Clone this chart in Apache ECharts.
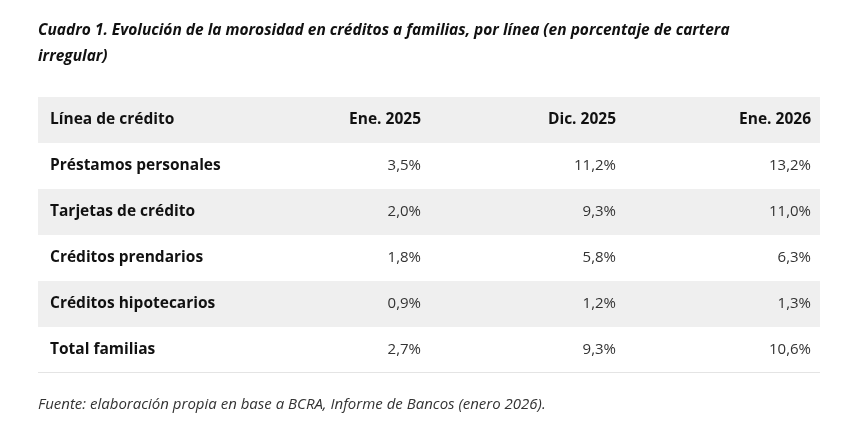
<!DOCTYPE html>
<html>
<head>
<meta charset="utf-8">
<script src="https://cdn.jsdelivr.net/npm/echarts@6/dist/echarts.min.js"></script>
<style>html,body{margin:0;padding:0;background:#fff}#container{width:865px;height:446px}</style>
</head>
<body>
<div id="container"></div>
<script>
const headers = ['Línea de crédito', 'Ene. 2025', 'Dic. 2025', 'Ene. 2026'];
const lines = ['Préstamos personales', 'Tarjetas de crédito', 'Créditos prendarios', 'Créditos hipotecarios', 'Total familias'];
const ene2025 = [3.5, 2.0, 1.8, 0.9, 2.7];
const dic2025 = [11.2, 9.3, 5.8, 1.2, 9.3];
const ene2026 = [13.2, 11.0, 6.3, 1.3, 10.6];

var dom = document.getElementById('container');
var myChart = echarts.init(dom, null, { renderer: 'canvas' });
const font = '"Open Sans", "Noto Sans", sans-serif';
const fmt = (v) => v.toFixed(1).replace('.', ',') + '%';
const colX = [50, 421, 616, 811];
const top0 = 97, rowH = 46;

let elements = [];
elements.push({ type: 'text', left: 38, top: 18, style: { text: 'Cuadro 1. Evolución de la morosidad en créditos a familias, por línea (en porcentaje de cartera\nirregular)', font: 'italic bold 15.5px ' + font, fill: '#111', lineHeight: 26 } });
// header band
elements.push({ type: 'rect', shape: { x: 38, y: top0, width: 782, height: rowH }, style: { fill: '#efefef' } });
headers.forEach((h, i) => {
    elements.push({ type: 'text', x: colX[i], y: top0 + rowH / 2, style: { text: h, font: 'bold 15.5px ' + font, fill: '#111', align: i === 0 ? 'left' : 'right', verticalAlign: 'middle' } });
});
lines.forEach((name, r) => {
    let y = top0 + rowH * (r + 1);
    if (r % 2 === 1) {
        elements.push({ type: 'rect', shape: { x: 38, y: y, width: 782, height: rowH }, style: { fill: '#efefef' } });
    }
    let vals = [ene2025[r], dic2025[r], ene2026[r]];
    elements.push({ type: 'text', x: colX[0], y: y + rowH / 2, style: { text: name, font: 'bold 15.5px ' + font, fill: '#111', verticalAlign: 'middle' } });
    vals.forEach((v, c) => {
        elements.push({ type: 'text', x: colX[c + 1], y: y + rowH / 2, style: { text: fmt(v), font: '15px ' + font, fill: '#333', align: 'right', verticalAlign: 'middle' } });
    });
});
elements.push({ type: 'rect', shape: { x: 38, y: top0 + rowH * 6 - 1, width: 782, height: 1 }, style: { fill: '#e4e4e4' } });
elements.push({ type: 'text', left: 38, top: 397, style: { text: 'Fuente: elaboración propia en base a BCRA, Informe de Bancos (enero 2026).', font: 'italic 15px ' + font, fill: '#333' } });

myChart.setOption({ backgroundColor: '#fff', graphic: { elements: elements } });
</script>
</body>
</html>
